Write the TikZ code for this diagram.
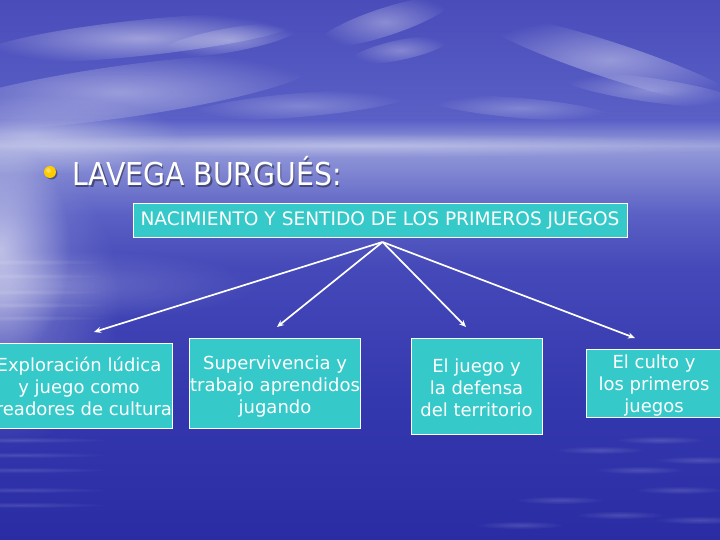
\documentclass[tikz,border=0pt]{standalone}
\usepackage{fontspec}
\setmainfont{DejaVu Sans}
\newfontfamily\titlefont{DejaVu Sans Condensed}
\usetikzlibrary{arrows.meta,fadings}
\definecolor{skytop}{HTML}{4A4CBA}
\definecolor{skymid}{HTML}{5A60C6}
\definecolor{horizon}{HTML}{9EA4DC}
\definecolor{seatop}{HTML}{5A60C4}
\definecolor{seaup}{HTML}{4448B8}
\definecolor{seamid}{HTML}{3438AE}
\definecolor{seabot}{HTML}{2A2CA4}
\definecolor{boxfill}{HTML}{36C9C9}
\definecolor{bulletc}{HTML}{FFCC00}
\tikzfading[name=softglow, inner color=transparent!0, outer color=transparent!100]
\tikzset{
  box/.style={draw=white, line width=0.9pt, fill=boxfill, inner sep=0pt},
  boxtext/.style={text=white, align=center, inner sep=0pt, font=\fontsize{18}{22}\selectfont},
  link/.style={draw=white, line width=1.7pt, -{Stealth[length=7pt,width=6pt]}},
  wisp/.style={fill=white, path fading=softglow},
}
\begin{document}
\begin{tikzpicture}[x=1pt,y=-1pt]
\useasboundingbox (0,0) rectangle (720,540);
\begin{scope}
\clip (0,0) rectangle (720,540);
% sky
\shade[top color=skytop, bottom color=skymid] (0,0) rectangle (720,120);
\shade[top color=skymid, bottom color=horizon] (0,120) rectangle (720,148);
\shade[top color=horizon!85!skymid, bottom color=seatop] (0,148) rectangle (720,215);
% sea
\shade[top color=seatop, bottom color=seaup] (0,215) rectangle (720,270);
\shade[top color=seaup, bottom color=seamid] (0,270) rectangle (720,400);
\shade[top color=seamid, bottom color=seabot] (0,400) rectangle (720,540);
% clouds
\fill[wisp, opacity=0.45] (140,38) [rotate around={6:(140,38)}] ellipse (160 and 18);
\fill[wisp, opacity=0.35] (230,40) [rotate around={10:(230,40)}] ellipse (70 and 12);
\fill[wisp, opacity=0.35] (385,22) [rotate around={18:(385,22)}] ellipse (70 and 14);
\fill[wisp, opacity=0.30] (400,50) [rotate around={12:(400,50)}] ellipse (50 and 10);
\fill[wisp, opacity=0.40] (610,60) [rotate around={-18:(610,60)}] ellipse (140 and 18);
\fill[wisp, opacity=0.30] (650,90) [rotate around={-8:(650,90)}] ellipse (90 and 12);
\fill[wisp, opacity=0.25] (520,108) [rotate around={-5:(520,108)}] ellipse (90 and 10);
\fill[wisp, opacity=0.40] (120,92) [rotate around={8:(120,92)}] ellipse (200 and 26);
\fill[wisp, opacity=0.25] (300,105) [rotate around={5:(300,105)}] ellipse (110 and 12);
\fill[wisp, opacity=0.40] (30,135) ellipse (150 and 40);
\fill[wisp, opacity=0.30] (360,145) ellipse (420 and 12);
% sea glare on the left
\fill[wisp, opacity=0.55] (0,250) ellipse (70 and 110);
\fill[wisp, opacity=0.30] (0,300) ellipse (120 and 150);
\fill[wisp, opacity=0.20] (60,285) ellipse (200 and 35);
\foreach \yy in {262,276,292,305,318,440,455,470,490,505}{
  \fill[wisp, opacity=0.13] (20,\yy) ellipse (90 and 3);
}
\foreach \xx/\yy in {600/450,640/470,680/490,560/500,620/515,700/520,520/525,660/440,700/460}{
  \fill[wisp, opacity=0.15] (\xx,\yy) ellipse (45 and 4);
}
\end{scope}

% title
\fill[black, opacity=0.35] (51.5,173.5) circle (6);
\fill[bulletc] (50,172) circle (6);
\fill[white, opacity=0.35] (48.5,170.5) circle (2.4);
\node (titleshadow) [anchor=base west, text=black, opacity=0.4, font=\titlefont\fontsize{31.5}{32}\selectfont, inner sep=0pt] at (73.5,187.5) {LAVEGA BURGUÉS:};
\node (title) [anchor=base west, text=white, font=\titlefont\fontsize{31.5}{32}\selectfont, inner sep=0pt] at (72,186) {LAVEGA BURGUÉS:};

% root box
\node (root) [box, minimum width=494pt, minimum height=34pt] at (380,220) {};
\node (roottext) [boxtext, font=\fontsize{18.6}{20}\selectfont] at (380,220) {NACIMIENTO Y SENTIDO DE LOS PRIMEROS JUEGOS};
\coordinate (src) at (382.5,242);

% child boxes
\node (b1) [box, minimum width=189pt, minimum height=85.5pt] at (78,386) {};
\node (b1t) [boxtext] at (79,386.5) {Exploración lúdica\\y juego como\\creadores de cultura};
\node (b2) [box, minimum width=171.5pt, minimum height=90.5pt] at (274.8,383.3) {};
\node (b2t) [boxtext] at (275,386.5) {Supervivencia y\\trabajo aprendidos\\jugando};
\node (b3) [box, minimum width=131pt, minimum height=96pt] at (476.5,386) {};
\node (b3t) [boxtext] at (476.5,388) {El juego y\\la defensa\\del territorio};
\node (b4) [box, minimum width=136pt, minimum height=68pt] at (654,383) {};
\node (b4t) [boxtext] at (654,386) {El culto y\\los primeros\\juegos};

% arrow ends
\coordinate (t1) at (94,332);
\coordinate (t2) at (277,327);
\coordinate (t3) at (466,327);
\coordinate (t4) at (635,338);
\draw[link] (src) -- (t1);
\draw[link] (src) -- (t2);
\draw[link] (src) -- (t3);
\draw[link] (src) -- (t4);
\end{tikzpicture}
\end{document}
